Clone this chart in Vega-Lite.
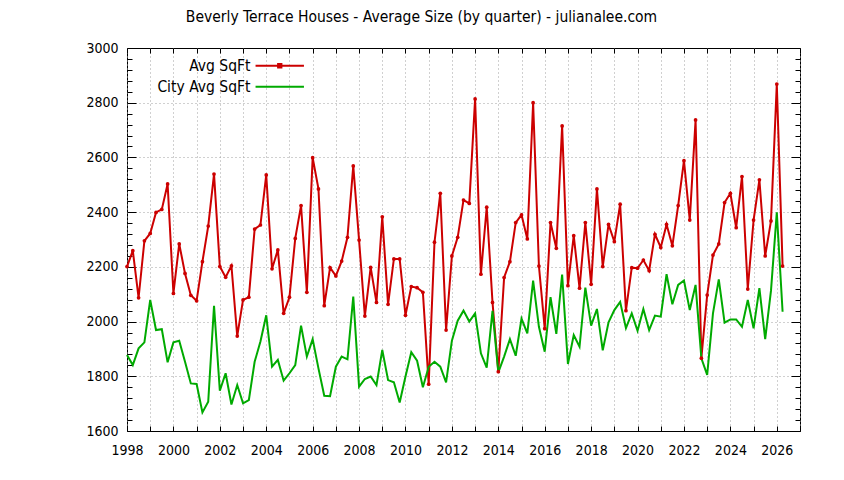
{
  "$schema": "https://vega.github.io/schema/vega-lite/v6.json",
  "width": 673,
  "height": 383,
  "autosize": "none",
  "padding": {"left": 127, "top": 48, "right": 44, "bottom": 49},
  "background": "white",
  "title": {"text": "Beverly Terrace Houses - Average Size (by quarter) - julianalee.com", "font": "DejaVu Sans Condensed, DejaVu Sans", "fontSize": 15.5, "fontWeight": "normal", "color": "black", "anchor": "middle", "dx": -42, "offset": 16},
  "config": {"view": {"stroke": "black", "strokeWidth": 1}, "font": "DejaVu Sans Condensed, DejaVu Sans"},
  "data": {"values": [
    {"year":1998,"s":"Avg SqFt","v":2201},{"year":1998.25,"s":"Avg SqFt","v":2259},{"year":1998.5,"s":"Avg SqFt","v":2087},{"year":1998.75,"s":"Avg SqFt","v":2295},
    {"year":1999,"s":"Avg SqFt","v":2322},{"year":1999.25,"s":"Avg SqFt","v":2399},{"year":1999.5,"s":"Avg SqFt","v":2410},{"year":1999.75,"s":"Avg SqFt","v":2503},
    {"year":2000,"s":"Avg SqFt","v":2103},{"year":2000.25,"s":"Avg SqFt","v":2284},{"year":2000.5,"s":"Avg SqFt","v":2176},{"year":2000.75,"s":"Avg SqFt","v":2096},
    {"year":2001,"s":"Avg SqFt","v":2076},{"year":2001.25,"s":"Avg SqFt","v":2219},{"year":2001.5,"s":"Avg SqFt","v":2349},{"year":2001.75,"s":"Avg SqFt","v":2539},
    {"year":2002,"s":"Avg SqFt","v":2201},{"year":2002.25,"s":"Avg SqFt","v":2162},{"year":2002.5,"s":"Avg SqFt","v":2204},{"year":2002.75,"s":"Avg SqFt","v":1947},
    {"year":2003,"s":"Avg SqFt","v":2079},{"year":2003.25,"s":"Avg SqFt","v":2089},{"year":2003.5,"s":"Avg SqFt","v":2338},{"year":2003.75,"s":"Avg SqFt","v":2353},
    {"year":2004,"s":"Avg SqFt","v":2536},{"year":2004.25,"s":"Avg SqFt","v":2193},{"year":2004.5,"s":"Avg SqFt","v":2262},{"year":2004.75,"s":"Avg SqFt","v":2030},
    {"year":2005,"s":"Avg SqFt","v":2089},{"year":2005.25,"s":"Avg SqFt","v":2304},{"year":2005.5,"s":"Avg SqFt","v":2424},{"year":2005.75,"s":"Avg SqFt","v":2107},
    {"year":2006,"s":"Avg SqFt","v":2599},{"year":2006.25,"s":"Avg SqFt","v":2485},{"year":2006.5,"s":"Avg SqFt","v":2058},{"year":2006.75,"s":"Avg SqFt","v":2197},
    {"year":2007,"s":"Avg SqFt","v":2167},{"year":2007.25,"s":"Avg SqFt","v":2221},{"year":2007.5,"s":"Avg SqFt","v":2308},{"year":2007.75,"s":"Avg SqFt","v":2569},
    {"year":2008,"s":"Avg SqFt","v":2298},{"year":2008.25,"s":"Avg SqFt","v":2020},{"year":2008.5,"s":"Avg SqFt","v":2198},{"year":2008.75,"s":"Avg SqFt","v":2070},
    {"year":2009,"s":"Avg SqFt","v":2383},{"year":2009.25,"s":"Avg SqFt","v":2063},{"year":2009.5,"s":"Avg SqFt","v":2229},{"year":2009.75,"s":"Avg SqFt","v":2229},
    {"year":2010,"s":"Avg SqFt","v":2023},{"year":2010.25,"s":"Avg SqFt","v":2128},{"year":2010.5,"s":"Avg SqFt","v":2124},{"year":2010.75,"s":"Avg SqFt","v":2107},
    {"year":2011,"s":"Avg SqFt","v":1771},{"year":2011.25,"s":"Avg SqFt","v":2290},{"year":2011.5,"s":"Avg SqFt","v":2469},{"year":2011.75,"s":"Avg SqFt","v":1969},
    {"year":2012,"s":"Avg SqFt","v":2240},{"year":2012.25,"s":"Avg SqFt","v":2308},{"year":2012.5,"s":"Avg SqFt","v":2444},{"year":2012.75,"s":"Avg SqFt","v":2432},
    {"year":2013,"s":"Avg SqFt","v":2814},{"year":2013.25,"s":"Avg SqFt","v":2173},{"year":2013.5,"s":"Avg SqFt","v":2418},{"year":2013.75,"s":"Avg SqFt","v":2070},
    {"year":2014,"s":"Avg SqFt","v":1817},{"year":2014.25,"s":"Avg SqFt","v":2161},{"year":2014.5,"s":"Avg SqFt","v":2219},{"year":2014.75,"s":"Avg SqFt","v":2362},
    {"year":2015,"s":"Avg SqFt","v":2390},{"year":2015.25,"s":"Avg SqFt","v":2302},{"year":2015.5,"s":"Avg SqFt","v":2800},{"year":2015.75,"s":"Avg SqFt","v":2203},
    {"year":2016,"s":"Avg SqFt","v":1974},{"year":2016.25,"s":"Avg SqFt","v":2362},{"year":2016.5,"s":"Avg SqFt","v":2268},{"year":2016.75,"s":"Avg SqFt","v":2715},
    {"year":2017,"s":"Avg SqFt","v":2131},{"year":2017.25,"s":"Avg SqFt","v":2314},{"year":2017.5,"s":"Avg SqFt","v":2122},{"year":2017.75,"s":"Avg SqFt","v":2362},
    {"year":2018,"s":"Avg SqFt","v":2136},{"year":2018.25,"s":"Avg SqFt","v":2485},{"year":2018.5,"s":"Avg SqFt","v":2201},{"year":2018.75,"s":"Avg SqFt","v":2355},
    {"year":2019,"s":"Avg SqFt","v":2292},{"year":2019.25,"s":"Avg SqFt","v":2429},{"year":2019.5,"s":"Avg SqFt","v":2040},{"year":2019.75,"s":"Avg SqFt","v":2197},
    {"year":2020,"s":"Avg SqFt","v":2195},{"year":2020.25,"s":"Avg SqFt","v":2225},{"year":2020.5,"s":"Avg SqFt","v":2186},{"year":2020.75,"s":"Avg SqFt","v":2319},
    {"year":2021,"s":"Avg SqFt","v":2271},{"year":2021.25,"s":"Avg SqFt","v":2355},{"year":2021.5,"s":"Avg SqFt","v":2277},{"year":2021.75,"s":"Avg SqFt","v":2424},
    {"year":2022,"s":"Avg SqFt","v":2588},{"year":2022.25,"s":"Avg SqFt","v":2371},{"year":2022.5,"s":"Avg SqFt","v":2737},{"year":2022.75,"s":"Avg SqFt","v":1866},
    {"year":2023,"s":"Avg SqFt","v":2097},{"year":2023.25,"s":"Avg SqFt","v":2243},{"year":2023.5,"s":"Avg SqFt","v":2284},{"year":2023.75,"s":"Avg SqFt","v":2435},
    {"year":2024,"s":"Avg SqFt","v":2469},{"year":2024.25,"s":"Avg SqFt","v":2343},{"year":2024.5,"s":"Avg SqFt","v":2530},{"year":2024.75,"s":"Avg SqFt","v":2119},
    {"year":2025,"s":"Avg SqFt","v":2371},{"year":2025.25,"s":"Avg SqFt","v":2518},{"year":2025.5,"s":"Avg SqFt","v":2240},{"year":2025.75,"s":"Avg SqFt","v":2368},
    {"year":2026,"s":"Avg SqFt","v":2868},{"year":2026.25,"s":"Avg SqFt","v":2203},
    {"year":1998,"s":"City Avg SqFt","v":1878},{"year":1998.25,"s":"City Avg SqFt","v":1841},{"year":1998.5,"s":"City Avg SqFt","v":1902},{"year":1998.75,"s":"City Avg SqFt","v":1924},
    {"year":1999,"s":"City Avg SqFt","v":2079},{"year":1999.25,"s":"City Avg SqFt","v":1969},{"year":1999.5,"s":"City Avg SqFt","v":1972},{"year":1999.75,"s":"City Avg SqFt","v":1851},
    {"year":2000,"s":"City Avg SqFt","v":1924},{"year":2000.25,"s":"City Avg SqFt","v":1930},{"year":2000.5,"s":"City Avg SqFt","v":1853},{"year":2000.75,"s":"City Avg SqFt","v":1774},
    {"year":2001,"s":"City Avg SqFt","v":1772},{"year":2001.25,"s":"City Avg SqFt","v":1668},{"year":2001.5,"s":"City Avg SqFt","v":1707},{"year":2001.75,"s":"City Avg SqFt","v":2058},
    {"year":2002,"s":"City Avg SqFt","v":1747},{"year":2002.25,"s":"City Avg SqFt","v":1811},{"year":2002.5,"s":"City Avg SqFt","v":1697},{"year":2002.75,"s":"City Avg SqFt","v":1768},
    {"year":2003,"s":"City Avg SqFt","v":1701},{"year":2003.25,"s":"City Avg SqFt","v":1713},{"year":2003.5,"s":"City Avg SqFt","v":1853},{"year":2003.75,"s":"City Avg SqFt","v":1927},
    {"year":2004,"s":"City Avg SqFt","v":2023},{"year":2004.25,"s":"City Avg SqFt","v":1835},{"year":2004.5,"s":"City Avg SqFt","v":1860},{"year":2004.75,"s":"City Avg SqFt","v":1784},
    {"year":2005,"s":"City Avg SqFt","v":1811},{"year":2005.25,"s":"City Avg SqFt","v":1841},{"year":2005.5,"s":"City Avg SqFt","v":1985},{"year":2005.75,"s":"City Avg SqFt","v":1872},
    {"year":2006,"s":"City Avg SqFt","v":1936},{"year":2006.25,"s":"City Avg SqFt","v":1829},{"year":2006.5,"s":"City Avg SqFt","v":1729},{"year":2006.75,"s":"City Avg SqFt","v":1727},
    {"year":2007,"s":"City Avg SqFt","v":1835},{"year":2007.25,"s":"City Avg SqFt","v":1872},{"year":2007.5,"s":"City Avg SqFt","v":1862},{"year":2007.75,"s":"City Avg SqFt","v":2091},
    {"year":2008,"s":"City Avg SqFt","v":1762},{"year":2008.25,"s":"City Avg SqFt","v":1790},{"year":2008.5,"s":"City Avg SqFt","v":1799},{"year":2008.75,"s":"City Avg SqFt","v":1768},
    {"year":2009,"s":"City Avg SqFt","v":1896},{"year":2009.25,"s":"City Avg SqFt","v":1786},{"year":2009.5,"s":"City Avg SqFt","v":1778},{"year":2009.75,"s":"City Avg SqFt","v":1704},
    {"year":2010,"s":"City Avg SqFt","v":1799},{"year":2010.25,"s":"City Avg SqFt","v":1888},{"year":2010.5,"s":"City Avg SqFt","v":1857},{"year":2010.75,"s":"City Avg SqFt","v":1760},
    {"year":2011,"s":"City Avg SqFt","v":1835},{"year":2011.25,"s":"City Avg SqFt","v":1853},{"year":2011.5,"s":"City Avg SqFt","v":1835},{"year":2011.75,"s":"City Avg SqFt","v":1778},
    {"year":2012,"s":"City Avg SqFt","v":1930},{"year":2012.25,"s":"City Avg SqFt","v":2003},{"year":2012.5,"s":"City Avg SqFt","v":2040},{"year":2012.75,"s":"City Avg SqFt","v":2000},
    {"year":2013,"s":"City Avg SqFt","v":2030},{"year":2013.25,"s":"City Avg SqFt","v":1884},{"year":2013.5,"s":"City Avg SqFt","v":1832},{"year":2013.75,"s":"City Avg SqFt","v":2039},
    {"year":2014,"s":"City Avg SqFt","v":1814},{"year":2014.25,"s":"City Avg SqFt","v":1872},{"year":2014.5,"s":"City Avg SqFt","v":1936},{"year":2014.75,"s":"City Avg SqFt","v":1875},
    {"year":2015,"s":"City Avg SqFt","v":2011},{"year":2015.25,"s":"City Avg SqFt","v":1957},{"year":2015.5,"s":"City Avg SqFt","v":2150},{"year":2015.75,"s":"City Avg SqFt","v":1981},
    {"year":2016,"s":"City Avg SqFt","v":1890},{"year":2016.25,"s":"City Avg SqFt","v":2089},{"year":2016.5,"s":"City Avg SqFt","v":1955},{"year":2016.75,"s":"City Avg SqFt","v":2172},
    {"year":2017,"s":"City Avg SqFt","v":1845},{"year":2017.25,"s":"City Avg SqFt","v":1951},{"year":2017.5,"s":"City Avg SqFt","v":1908},{"year":2017.75,"s":"City Avg SqFt","v":2124},
    {"year":2018,"s":"City Avg SqFt","v":1985},{"year":2018.25,"s":"City Avg SqFt","v":2046},{"year":2018.5,"s":"City Avg SqFt","v":1895},{"year":2018.75,"s":"City Avg SqFt","v":1997},
    {"year":2019,"s":"City Avg SqFt","v":2042},{"year":2019.25,"s":"City Avg SqFt","v":2072},{"year":2019.5,"s":"City Avg SqFt","v":1976},{"year":2019.75,"s":"City Avg SqFt","v":2030},
    {"year":2020,"s":"City Avg SqFt","v":1966},{"year":2020.25,"s":"City Avg SqFt","v":2046},{"year":2020.5,"s":"City Avg SqFt","v":1969},{"year":2020.75,"s":"City Avg SqFt","v":2022},
    {"year":2021,"s":"City Avg SqFt","v":2018},{"year":2021.25,"s":"City Avg SqFt","v":2173},{"year":2021.5,"s":"City Avg SqFt","v":2063},{"year":2021.75,"s":"City Avg SqFt","v":2134},
    {"year":2022,"s":"City Avg SqFt","v":2150},{"year":2022.25,"s":"City Avg SqFt","v":2042},{"year":2022.5,"s":"City Avg SqFt","v":2134},{"year":2022.75,"s":"City Avg SqFt","v":1866},
    {"year":2023,"s":"City Avg SqFt","v":1805},{"year":2023.25,"s":"City Avg SqFt","v":2030},{"year":2023.5,"s":"City Avg SqFt","v":2154},{"year":2023.75,"s":"City Avg SqFt","v":1996},
    {"year":2024,"s":"City Avg SqFt","v":2008},{"year":2024.25,"s":"City Avg SqFt","v":2008},{"year":2024.5,"s":"City Avg SqFt","v":1981},{"year":2024.75,"s":"City Avg SqFt","v":2079},
    {"year":2025,"s":"City Avg SqFt","v":1975},{"year":2025.25,"s":"City Avg SqFt","v":2122},{"year":2025.5,"s":"City Avg SqFt","v":1936},{"year":2025.75,"s":"City Avg SqFt","v":2113},
    {"year":2026,"s":"City Avg SqFt","v":2399},{"year":2026.25,"s":"City Avg SqFt","v":2036}
  ]},
  "resolve": {"axis": {"x": "independent", "y": "independent"}},
  "layer": [
    {
      "mark": {"type": "line", "strokeWidth": 2},
      "encoding": {
        "x": {"field": "year", "type": "quantitative", "scale": {"domain": [1998, 2027], "nice": false, "zero": false},
          "axis": {"title": null, "values": [1998,1999,2000,2001,2002,2003,2004,2005,2006,2007,2008,2009,2010,2011,2012,2013,2014,2015,2016,2017,2018,2019,2020,2021,2022,2023,2024,2025,2026,2027],
            "format": "d", "labelExpr": "datum.value % 2 === 0 ? datum.label : ''", "labelOverlap": false, "labelFlush": false,
            "domain": false, "tickSize": -5, "tickColor": "black", "labelPadding": 17, "labelFont": "DejaVu Sans Condensed, DejaVu Sans", "labelFontSize": 14, "labelColor": "black",
            "grid": true, "gridColor": "#a0a0a0", "gridDash": [1, 3], "gridWidth": 1, "gridOpacity": 1}},
        "y": {"field": "v", "type": "quantitative", "scale": {"domain": [1600, 3000], "nice": false, "zero": false},
          "axis": {"title": null, "values": [1600,1640,1680,1720,1760,1800,1840,1880,1920,1960,2000,2040,2080,2120,2160,2200,2240,2280,2320,2360,2400,2440,2480,2520,2560,2600,2640,2680,2720,2760,2800,2840,2880,2920,2960,3000],
            "format": "d", "labelExpr": "datum.value % 200 === 0 ? datum.label : ''", "labelOverlap": false, "labelFlush": false,
            "domain": false, "tickSize": {"condition": {"test": "datum.value % 200 === 0", "value": -9}, "value": -5}, "tickColor": "black", "labelPadding": 18,
            "labelFont": "DejaVu Sans Condensed, DejaVu Sans", "labelFontSize": 14, "labelColor": "black",
            "grid": true, "gridColor": "#a0a0a0", "gridDash": [1, 3], "gridWidth": 1,
            "gridOpacity": {"condition": {"test": "datum.value % 200 === 0 && datum.value > 1600 && datum.value < 3000", "value": 1}, "value": 0}}},
        "color": {"field": "s", "type": "nominal", "scale": {"domain": ["Avg SqFt", "City Avg SqFt"], "range": ["#cc0000", "#00aa00"]},
          "legend": {"title": null, "orient": "none", "legendX": 145, "legendY": 10, "padding": 0,
            "symbolType": "M-4.4,0H4.4", "symbolSize": 121, "symbolStrokeWidth": 2,
            "labelAlign": "right", "labelOffset": -37, "labelFont": "DejaVu Sans Condensed, DejaVu Sans", "labelFontSize": 15.5, "labelColor": "black", "rowPadding": 4,
            "encode": {"symbols": {"update": {"shape": [{"test": "datum.value === 'Avg SqFt'", "value": "M-4.4,0H4.4M-0.3,-0.3H0.3V0.3H-0.3Z"}, {"value": "M-4.4,0H4.4"}]}}}}}
      }
    },
    {
      "transform": [{"filter": "datum.s === 'Avg SqFt'"}],
      "mark": {"type": "point", "filled": true, "shape": "circle", "size": 14, "color": "#cc0000", "opacity": 1},
      "encoding": {
        "x": {"field": "year", "type": "quantitative",
          "axis": {"orient": "top", "title": null, "values": [1998,1999,2000,2001,2002,2003,2004,2005,2006,2007,2008,2009,2010,2011,2012,2013,2014,2015,2016,2017,2018,2019,2020,2021,2022,2023,2024,2025,2026,2027],
            "labels": false, "domain": false, "grid": false, "tickSize": -5, "tickColor": "black"}},
        "y": {"field": "v", "type": "quantitative",
          "axis": {"orient": "right", "title": null, "values": [1600,1640,1680,1720,1760,1800,1840,1880,1920,1960,2000,2040,2080,2120,2160,2200,2240,2280,2320,2360,2400,2440,2480,2520,2560,2600,2640,2680,2720,2760,2800,2840,2880,2920,2960,3000],
            "labels": false, "domain": false, "grid": false, "tickColor": "black",
            "tickSize": {"condition": {"test": "datum.value % 200 === 0", "value": -9}, "value": -5}}}
      }
    }
  ]
}
